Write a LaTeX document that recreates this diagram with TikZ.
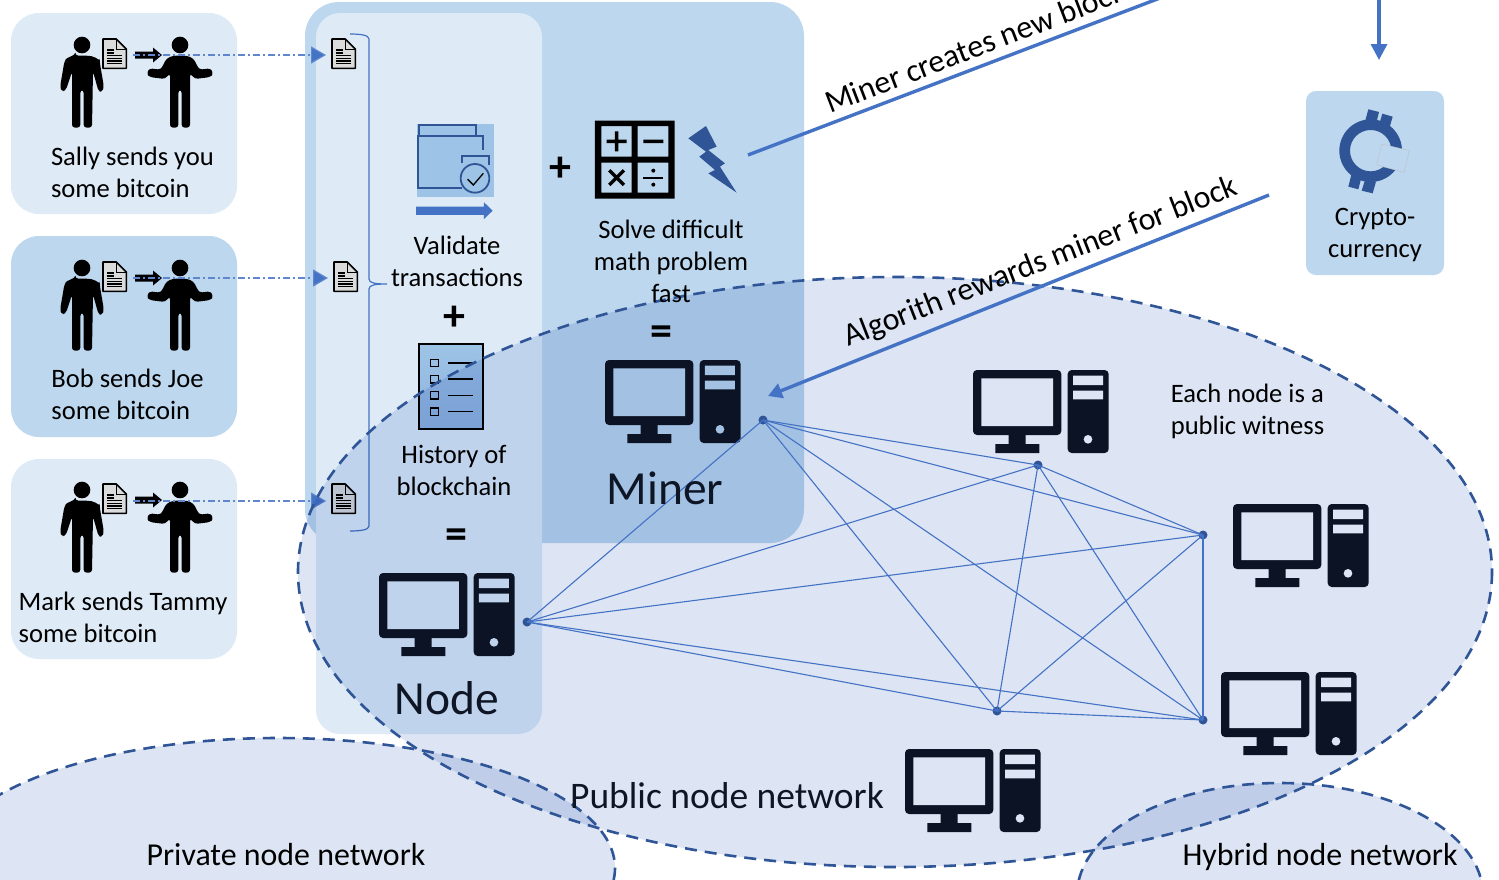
\documentclass[tikz,border=0pt]{standalone}
\usepackage{fontspec}
\setmainfont{Carlito}
\usetikzlibrary{arrows.meta}
\definecolor{boxlight}{HTML}{DEEBF7}
\definecolor{boxmid}{HTML}{BDD7EE}
\definecolor{accent}{HTML}{4472C4}
\definecolor{deep}{HTML}{2F5597}
\definecolor{iconc}{HTML}{0E1626}
\definecolor{veil}{HTML}{DDE5F4}
\definecolor{paneA}{HTML}{9DC3E6}
\definecolor{paneB}{HTML}{8FB4E0}
\tikzset{
  x=1pt,y=-1pt,
  txt/.style={inner sep=0pt,font=\fontsize{26.6}{32}\selectfont,text=black},
  sym/.style={inner sep=0pt,font=\fontsize{44}{44}\selectfont\bfseries,text=black},
  big/.style={inner sep=0pt,font=\fontsize{47.5}{50}\selectfont,text=iconc},
  net/.style={inner sep=0pt,font=\fontsize{37.5}{40}\selectfont,text=iconc},
  net2/.style={inner sep=0pt,font=\fontsize{31.9}{36}\selectfont,text=black},
  slant/.style={inner sep=0pt,font=\fontsize{32}{36}\selectfont,text=black},
  dot/.style={circle,fill=deep,inner sep=0pt,minimum size=9pt},
  link/.style={accent,line width=1.1pt},
  flow/.style={accent,line width=3.4pt},
  send/.style={accent!85!white,line width=1.2pt,dash pattern=on 7pt off 3pt on 2pt off 3pt,
     -{Triangle[length=15pt,width=17pt,fill=accent]}},
  zone/.style={deep,line width=2.6pt,dash pattern=on 12pt off 8pt},
  computer/.pic={
    \begin{scope}[x=0.3333pt,y=-0.3333pt]
    \fill[iconc,rounded corners=4pt] (0,0) -- (265,0) -- (265,195) -- (0,195) -- cycle;
    \fill[iconc] (107,190) rectangle (158,225) (67,222) rectangle (199,249);
    \fill[iconc,rounded corners=4pt] (284,0) -- (407,0) -- (407,249) -- (284,249) -- cycle;
    \end{scope}},
  doc/.pic={
    \begin{scope}[x=0.3333pt,y=-0.3333pt]
    \draw[black,line width=1.6pt,fill=white!86!black,line join=round]
      (0,0) -- (40,0) -- (70,30) -- (70,88) -- (0,88) -- cycle;
    \draw[black,line width=1pt] (40,0) -- (40,30) -- (70,30);
    \draw[black,line width=1.3pt] (12,33) -- (32,33) (12,42) -- (32,42)
      (12,50) -- (58,50) (12,58) -- (58,58) (12,66) -- (58,66) (12,74) -- (58,74);
    \end{scope}},
  sender/.pic={
    \begin{scope}[x=0.3333pt,y=-0.3333pt]
    \fill[black] (0,0) circle (25);
    \fill[black,rounded corners=3pt] (-20,32) -- (20,32) .. controls (45,37) and (53,50) .. (53,50)
      -- (66,127) -- (60,140) -- (50,140) -- (33,80) -- (30,248) -- (5,248) -- (5,135) -- (-5,135)
      -- (-5,248) -- (-30,248) -- (-30,80) -- (-48,135) -- (-60,140) -- (-66,127) -- (-53,50)
      .. controls (-45,37) and (-20,32) .. (-20,32) -- cycle;
    \end{scope}},
  receiver/.pic={
    \begin{scope}[x=0.3333pt,y=-0.3333pt]
    \fill[black] (0,0) circle (25);
    \fill[black,rounded corners=3pt] (-20,32) -- (20,32) -- (40,40) -- (58,74) -- (92,70) -- (100,85)
      -- (92,96) -- (45,102) -- (30,85) -- (30,248) -- (5,248) -- (5,135) -- (-5,135)
      -- (-5,248) -- (-30,248) -- (-30,85) -- (-45,102) -- (-92,96) -- (-100,85) -- (-92,70) -- (-58,74)
      -- (-40,40) -- cycle;
    \end{scope}},
  thickarrow/.pic={
    \fill[black] (0,-3.5) -- (18,-3.5) -- (18,-7.5) -- (27,0) -- (18,7.5) -- (18,3.5) -- (0,3.5) -- cycle;
  }
}
% computer drawn with its background showing through: screen, drive bays and power light
\newcommand{\compholes}[3]{%
  \begin{scope}[shift={(#1,#2)},x=0.3333pt,y=-0.3333pt]
  \fill[#3] (25,25) rectangle (240,168) (300,17) rectangle (390,45) (300,62) rectangle (390,88) (345,208) circle (13);
  \end{scope}}
\begin{document}
\begin{tikzpicture}
\useasboundingbox (0,0) rectangle (1499,879);
\clip (0,0) rectangle (1499,879);
\fill[white] (0,0) rectangle (1499,879);
% left cards
\fill[boxlight,rounded corners=28pt] (11,13) rectangle (237,214);
\fill[boxmid,rounded corners=28pt] (11,236) rectangle (237,437);
\fill[boxlight,rounded corners=28pt] (11,459) rectangle (237,659);
% panels
\fill[boxmid,rounded corners=34pt] (305,2) rectangle (804,543);
\fill[boxlight,rounded corners=24pt] (316,13) rectangle (542,734);
\fill[boxmid,rounded corners=10pt] (1306,91) rectangle (1444,275);
% people
\foreach \dy in {0,223,445}{
  \pic at (82,45+\dy) {sender};
  \pic at (180,45+\dy) {receiver};
  \pic at (103,39+\dy) {doc};
  \pic at (135,55+\dy) {thickarrow};
}
\pic at (332,39) {doc};
\pic at (334,262) {doc};
\pic at (332,484) {doc};
% send connectors
\coordinate (s1) at (133,55);  \coordinate (d1) at (326,55);
\coordinate (s2) at (133,278); \coordinate (d2) at (328,278);
\coordinate (s3) at (133,501); \coordinate (d3) at (326,501);
\draw[send] (s1) -- (d1);
\draw[send] (s2) -- (d2);
\draw[send] (s3) -- (d3);
% bracket
\draw[accent,line width=1.2pt] (350,34) .. controls (360,34) and (369,35) .. (369,39) -- (369,279)
  .. controls (369,283) and (375,284) .. (387,284) .. controls (375,284) and (369,285) .. (369,289)
  -- (369,526) .. controls (369,530) and (360,531) .. (350,531);
% validate icon
\begin{scope}[shift={(400,100)},x=0.3333pt,y=-0.3333pt]
\fill[paneA] (52,72) rectangle (282,290);
\draw[deep,line width=1.8pt] (228,108) -- (228,75) -- (57,75) -- (57,108);
\draw[deep,line width=1.8pt] (248,150) -- (248,108) -- (55,108) -- (55,265) -- (185,265);
\draw[deep,line width=1.8pt] (187,190) -- (187,167) -- (267,167) -- (267,195);
\draw[deep,line width=1.8pt] (225,235) circle (43);
\draw[black,line width=1.3pt] (203,238) -- (220,255) -- (250,220);
\fill[accent] (48,320) -- (252,320) -- (252,307) -- (278,332) -- (252,357) -- (252,345) -- (48,345) -- cycle;
% calculator
\fill[black,even odd rule] (585,62) rectangle (824,296)
  (604,78) rectangle (695,170) (713,78) rectangle (805,170)
  (604,188) rectangle (695,278) (713,188) rectangle (805,278);
\draw[black,line width=3.4pt] (620,124) -- (680,124) (650,94) -- (650,154) (730,124) -- (790,124)
  (628,211) -- (672,255) (672,211) -- (628,255);
\draw[black,line width=1.8pt] (730,233) -- (790,233);
\fill[black] (760,212) circle (6) (760,254) circle (6);
% lightning
\fill[deep] (865,115) -- (918,78) -- (950,140) -- (925,150) -- (975,190) -- (960,200) -- (1010,278)
  -- (925,220) -- (945,210) -- (898,170) -- (918,155) -- cycle;
% checklist
\shade[top color=paneA,bottom color=paneB] (58,733) rectangle (250,987);
\draw[black,line width=1.8pt] (58,733) rectangle (250,987);
\draw[black,line width=1.6pt] (92,778) rectangle (116,800) (92,827) rectangle (116,849)
  (92,875) rectangle (116,897) (92,924) rectangle (116,946)
  (145,789) -- (218,789) (145,837) -- (218,837) (145,886) -- (218,886) (145,934) -- (218,934);
\end{scope}
% coin
\begin{scope}[shift={(1280,0)},x=0.3333pt,y=-0.3333pt]
\fill[deep,even odd rule] (272,452) circle (94) (272,452) circle (62);
\fill[deep] (265,328) -- (297,336) -- (288,372) -- (255,365) -- cycle
  (307,341) -- (338,350) -- (328,385) -- (297,375) -- cycle
  (215,520) -- (245,530) -- (235,568) -- (205,560) -- cycle
  (255,540) -- (288,545) -- (278,580) -- (245,572) -- cycle;
\draw[black!25,line width=0.4pt,fill=boxmid] (305,432) -- (388,452) -- (372,517) -- (290,495) -- cycle;
\end{scope}
% computers
\pic at (605,360) {computer};
\pic at (379,573) {computer};
\pic at (973,370) {computer};
\pic at (1233,504) {computer};
\pic at (1221,672) {computer};
\pic at (905,749) {computer};
% holes take the colour of what lies behind them, before the zones tint them
\compholes{605}{360}{boxmid}
\compholes{379}{573}{boxlight}
\compholes{973}{370}{white}
\compholes{1233}{504}{white}
\compholes{1221}{672}{white}
\compholes{905}{749}{white}
% zones
\begin{scope}[blend mode=multiply]
\fill[veil] (895,572) ellipse [x radius=597,y radius=295];
\fill[veil] (278,868) ellipse [x radius=337,y radius=130];
\fill[veil] (1280,895) ellipse [x radius=203,y radius=112];
\end{scope}
\draw[zone] (895,572) ellipse [x radius=597,y radius=295];
\draw[zone] (278,868) ellipse [x radius=337,y radius=130];
\draw[zone] (1280,895) ellipse [x radius=203,y radius=112];
% network
\node[dot] (m) at (763,420) {};
\node[dot] (a) at (1038,465) {};
\node[dot] (b) at (1203,535) {};
\node[dot] (c) at (1203,720) {};
\node[dot] (e) at (997,711) {};
\node[dot] (n) at (527,622) {};
\foreach \p/\q in {m/a,m/b,m/c,m/e,m/n,a/b,a/c,a/e,a/n,b/c,b/e,b/n,c/e,c/n,e/n}
  \draw[link] (\p.center) -- (\q.center);
% flows
\coordinate (f1) at (748,155); \coordinate (f2) at (1160,-2);
\draw[flow] (f1) -- (f2);
\coordinate (f3) at (1269,195); \coordinate (f4) at (768,396);
\draw[flow,-{Triangle[length=14pt,width=15pt]}] (f3) -- (f4);
\coordinate (f5) at (1379,-2); \coordinate (f6) at (1379,60);
\draw[flow,-{Triangle[length=16pt,width=16pt]}] (f5) -- (f6);
% texts
\node[txt,align=left] (t1) at (132.5,172) {Sally sends you\\some bitcoin};
\node[txt,align=left] (t2) at (127.5,394) {Bob sends Joe\\some bitcoin};
\node[txt,align=left] (t3) at (123,617) {Mark sends Tammy\\some bitcoin};
\node[txt,align=center] (t4) at (457,261) {Validate\\transactions};
\node[txt,align=center] (t5) at (671,261) {Solve difficult\\math problem\\fast};
\node[txt,align=center] (t6) at (454,470) {History of\\blockchain};
\node[txt,align=center] (t7) at (1375,235) {Crypto-\\currency};
\node[txt,align=left] (t8) at (1247.5,411) {Each node is a\\public witness};
\node[sym] (p1) at (560,169) {+};
\node[sym] (p2) at (454,318) {+};
\node[sym] (q1) at (661,336) {=};
\node[sym] (q2) at (456,539) {=};
\node[big] (t9) at (665,488) {Miner};
\node[big] (t10) at (447,698) {Node};
\node[net] (t11) at (727,796) {Public node network};
\node[net2] (t12) at (286,855) {Private node network};
\node[net2] (t13) at (1320,857) {Hybrid node network};
\node[slant,rotate=21,anchor=base west] (t14) at (830,114) {Miner creates new block};
\node[slant,rotate=21.3,anchor=base west] (t15) at (848,347) {Algorith rewards miner for block};
\end{tikzpicture}
\end{document}
